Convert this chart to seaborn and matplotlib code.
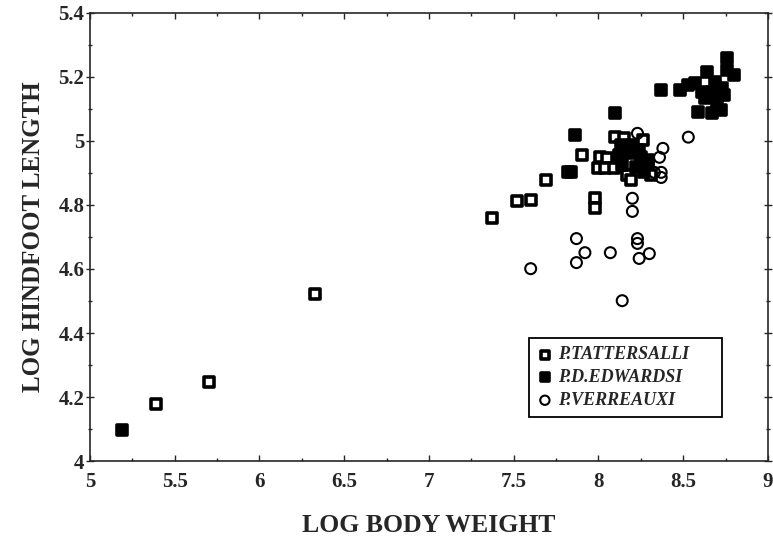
import pandas as pd
import matplotlib
matplotlib.use("Agg")
import matplotlib.pyplot as plt
import seaborn as sns
from matplotlib.ticker import MultipleLocator, FuncFormatter

# values
tatt_x = [5.39, 5.70, 6.33, 7.37, 7.52, 7.60, 7.69, 7.82, 7.90, 7.98, 7.98,
          8.10, 8.15, 8.01, 8.05, 8.00, 8.04, 8.09, 8.17, 8.19, 8.31, 8.26, 8.29]
tatt_y = [4.178, 4.247, 4.523, 4.758, 4.811, 4.817, 4.877, 4.902, 4.955, 4.821, 4.792,
          5.012, 5.008, 4.949, 4.946, 4.915, 4.915, 4.915, 4.893, 4.877, 4.893, 5.002, 4.940]

edw_x = [5.19, 7.86, 8.10, 8.37, 7.84,
         8.48, 8.53, 8.57, 8.64, 8.76, 8.76, 8.80, 8.69, 8.73, 8.61, 8.67, 8.74,
         8.63, 8.70, 8.59, 8.67, 8.72,
         8.13, 8.20, 8.12, 8.19, 8.25, 8.14, 8.22, 8.29, 8.27, 8.24]
edw_y = [4.097, 5.018, 5.087, 5.160, 4.902,
         5.159, 5.174, 5.181, 5.215, 5.259, 5.222, 5.206, 5.184, 5.165, 5.153, 5.153, 5.143,
         5.134, 5.121, 5.090, 5.087, 5.096,
         4.987, 4.987, 4.955, 4.961, 4.949, 4.924, 4.918, 4.930, 4.902, 4.971]

verr_x = [8.20, 8.20, 7.87, 7.92, 7.87, 7.60, 8.07, 8.23, 8.23, 8.30, 8.24, 8.14,
          8.23, 8.38, 8.36, 8.37, 8.37, 8.33, 8.53]
verr_y = [4.821, 4.780, 4.695, 4.651, 4.620, 4.601, 4.651, 4.695, 4.680, 4.648, 4.633, 4.501,
          5.024, 4.977, 4.949, 4.902, 4.886, 4.902, 5.012]

species = ["P.TATTERSALLI", "P.D.EDWARDSI", "P.VERREAUXI"]

df = pd.DataFrame({
    "weight": tatt_x + edw_x + verr_x,
    "hindfoot": tatt_y + edw_y + verr_y,
    "species": [species[0]] * len(tatt_x) + [species[1]] * len(edw_x) + [species[2]] * len(verr_x),
})

sns.set_style("ticks")
plt.rcParams["font.family"] = ["Liberation Serif", "DejaVu Serif"]
plt.rcParams["font.weight"] = "bold"

fig = plt.figure(figsize=(7.73, 5.39), dpi=100)
ax = fig.add_axes([0.1164, 0.1447, 0.8771, 0.8312])

sns.scatterplot(data=df[df.species == species[0]], x="weight", y="hindfoot", ax=ax,
                marker="s", s=45, color="white", edgecolor="black", linewidth=2.6,
                label=species[0])
sns.scatterplot(data=df[df.species == species[1]], x="weight", y="hindfoot", ax=ax,
                marker="s", s=45, color="black", edgecolor="black", linewidth=2.6,
                label=species[1])
sns.scatterplot(data=df[df.species == species[2]], x="weight", y="hindfoot", ax=ax,
                marker="o", s=62, facecolor="none", edgecolor="black", linewidth=1.5,
                label=species[2])

ax.set_xlim(5, 9)
ax.set_ylim(4, 5.4)
ax.xaxis.set_major_locator(MultipleLocator(0.5))
ax.xaxis.set_minor_locator(MultipleLocator(0.25))
ax.yaxis.set_major_locator(MultipleLocator(0.2))
ax.yaxis.set_minor_locator(MultipleLocator(0.1))
fmt = FuncFormatter(lambda v, p: f"{v:g}")
ax.xaxis.set_major_formatter(fmt)
ax.yaxis.set_major_formatter(fmt)

for s in ax.spines.values():
    s.set_linewidth(1.2)
    s.set_visible(True)

ax.tick_params(axis="x", which="both", direction="in", top=True, width=1.0, labelsize=15, pad=8)
ax.tick_params(axis="x", which="major", length=4)
ax.tick_params(axis="x", which="minor", length=2.5)
ax.tick_params(axis="y", which="both", direction="inout", right=True, width=1.0, labelsize=15, pad=1)
ax.tick_params(axis="y", which="major", length=6)
ax.tick_params(axis="y", which="minor", length=3)
for lab in ax.get_xticklabels() + ax.get_yticklabels():
    lab.set_fontweight("bold")

ax.set_xlabel("LOG BODY WEIGHT", fontsize=18.5, fontweight="bold", labelpad=16)
ax.set_ylabel("LOG HINDFOOT LENGTH", fontsize=18, fontweight="bold", labelpad=10)

leg = ax.legend(loc="lower left", bbox_to_anchor=(0.647, 0.098, 0.285, 0.197), mode="expand",
                borderaxespad=0, frameon=True, fancybox=False, edgecolor="black",
                prop={"family": "Liberation Serif", "weight": "bold", "style": "italic", "size": 13},
                handletextpad=0.3, handlelength=0.9, labelspacing=0.32, borderpad=0.45,
                markerscale=0.85)
leg.get_frame().set_linewidth(1.3)
leg.get_frame().set_alpha(1)

fig.savefig("out.png", dpi=100)
